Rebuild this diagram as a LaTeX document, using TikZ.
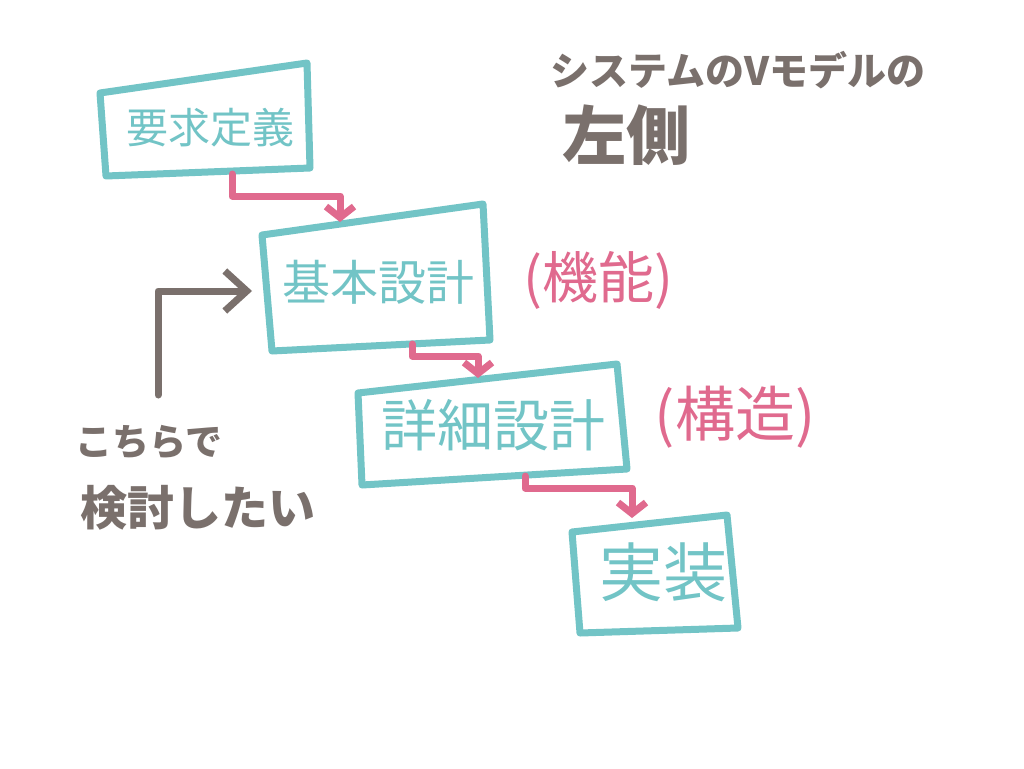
\documentclass[tikz,border=0pt]{standalone}
\usepackage{fontspec}
\newfontfamily\jp{Noto Sans CJK JP}
\usetikzlibrary{arrows.meta}
\definecolor{boxteal}{RGB}{114,196,198}
\definecolor{flowpink}{RGB}{224,106,142}
\definecolor{inkgrey}{RGB}{122,112,108}
\tikzset{
  box/.style={draw=boxteal, line width=7pt, line join=round, line cap=round},
  lbl/.style={text=boxteal, font=\jp, inner sep=0pt},
  note/.style={text=inkgrey, font=\jp\bfseries, inner sep=0pt},
  pinknote/.style={text=flowpink, font=\jp, inner sep=0pt},
  flow/.style={draw=flowpink, line width=7pt, line join=round, line cap=round,
    -{Straight Barb[length=11pt,width=28pt,line width=7pt]}},
  back/.style={draw=inkgrey, line width=7pt, line join=round, line cap=round,
    -{Straight Barb[length=22pt,width=40pt,line width=7pt]}}
}
\begin{document}
\begin{tikzpicture}[x=1pt,y=-1pt]
\useasboundingbox[fill=white] (0,0) rectangle (1024,768);

% boxes
\draw[box] (100,93) -- (307,63) -- (310,168) -- (106,176) -- cycle;
\draw[box] (262,235) -- (483,204) -- (490,340) -- (272,351) -- cycle;
\draw[box] (358,393) -- (617,364) -- (627,469) -- (362,485) -- cycle;
\draw[box] (572,532) -- (727,515) -- (738,628) -- (580,633) -- cycle;

% labels
\node[lbl] (req) at (210,128) {\fontsize{42}{42}\selectfont 要求定義};
\node[lbl] (kihon) at (378,282) {\fontsize{48}{48}\selectfont 基本設計};
\node[lbl] (shosai) at (493,425) {\fontsize{56}{56}\selectfont 詳細設計};
\node[lbl] (jisso) at (663,572) {\fontsize{64}{64}\selectfont 実装};

\node[pinknote] (kino) at (598,280) {\fontsize{56}{56}\selectfont (機能)};
\node[pinknote] (kozo) at (735,417) {\fontsize{60}{60}\selectfont (構造)};

\node[note, anchor=west] (title1) at (550,70) {\fontsize{39}{39}\selectfont システムのVモデルの};
\node[note, anchor=west] (title2) at (562,135) {\fontsize{64}{64}\selectfont 左側};

\node[note, anchor=west] (here1) at (75,442) {\fontsize{37}{37}\selectfont こちらで};
\node[note, anchor=west] (here2) at (80,508) {\fontsize{47}{47}\selectfont 検討したい};

% connector end points on box edges
\coordinate (reqout) at (232,174);
\coordinate (kihonin) at (340,222);
\coordinate (kihonout) at (412,344);
\coordinate (shosaiin) at (478,378);
\coordinate (shosaiout) at (525,476);
\coordinate (jissoin) at (632,518);
\coordinate (backstart) at (158,395);
\coordinate (backend) at (252,291);

% connectors
\draw[flow] (reqout) -- ++(0,22) -| (kihonin);
\draw[flow] (kihonout) -- ++(0,12) -| (shosaiin);
\draw[flow] (shosaiout) -- ++(0,12) -| (jissoin);
\draw[back] (backstart) |- (backend);
\end{tikzpicture}
\end{document}
